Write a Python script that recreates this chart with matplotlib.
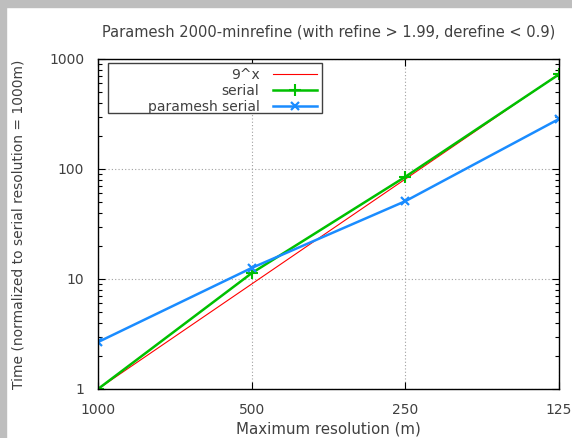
import numpy as np
import matplotlib
matplotlib.use("Agg")
import matplotlib.pyplot as plt
from matplotlib.patches import Rectangle
from matplotlib.ticker import LogLocator, NullFormatter, FixedLocator

# ---- data ----
resolutions = ["1000", "500", "250", "125"]
pow9 = [1, 9, 81, 729]
serial = [1.0, 11.3, 85.0, 725.0]
paramesh_serial = [2.67, 12.6, 51.0, 285.0]

TXT = "#404040"
plt.rcParams.update({"font.family": "DejaVu Sans", "font.size": 10,
                     "text.color": TXT, "axes.labelcolor": TXT,
                     "xtick.color": "black", "ytick.color": "black",
                     "xtick.labelcolor": TXT, "ytick.labelcolor": TXT})

W, H = 572, 438
fig = plt.figure(figsize=(W / 100, H / 100), dpi=100)
# gnuplot window frame (grey strip top + left)
fig.patches.append(Rectangle((0, 1 - 7 / H), 1, 7 / H, transform=fig.transFigure,
                             color="#bebebe", zorder=0))
fig.patches.append(Rectangle((0, 0), 6 / W, 1, transform=fig.transFigure,
                             color="#bebebe", zorder=0))

L, R, T, B = 98, 559, 59, 389
ax = fig.add_axes([L / W, 1 - B / H, (R - L) / W, (B - T) / H])

x = np.arange(len(resolutions))
ax.plot(x, pow9, color="#ff0000", lw=0.8, label="9^x")
ax.plot(x, serial, color="#00c000", lw=1.8, marker="+", ms=8, mew=1.5, label="serial")
ax.plot(x, paramesh_serial, color="#1a8cff", lw=1.8, marker="x", ms=6, mew=1.6,
        label="paramesh serial")

ax.set_yscale("log")
ax.set_ylim(1, 1000)
ax.set_xlim(x[0], x[-1])
ax.xaxis.set_major_locator(FixedLocator(x))
ax.set_xticklabels(resolutions)
ax.set_yticks([1, 10, 100, 1000])
ax.set_yticklabels(["1", "10", "100", "1000"])
ax.yaxis.set_minor_locator(LogLocator(base=10, subs=np.arange(2, 10)))
ax.yaxis.set_minor_formatter(NullFormatter())
ax.tick_params(which="both", direction="in", top=True, right=True, pad=10)
ax.tick_params(which="major", length=5, width=0.8)
ax.tick_params(which="minor", length=3, width=0.8)
ax.grid(True, which="major", color="#a0a0a0", ls=(0, (1, 2)), lw=0.8)
for s in ax.spines.values():
    s.set_linewidth(1.0)

ax.set_title("Paramesh 2000-minrefine (with refine > 1.99, derefine < 0.9)",
             fontsize=10.5, pad=16)
ax.set_xlabel("Maximum resolution (m)", fontsize=10.8, labelpad=3)
ax.set_ylabel("Time (normalized to serial resolution = 1000m)", labelpad=17)

# legend box (gnuplot-style: wide frame, right-aligned entries)
bx0, bx1 = (108 - L) / (R - L), (322 - L) / (R - L)
by0, by1 = (B - 113) / (B - T), (B - 63) / (B - T)
ax.add_patch(Rectangle((bx0, by0), bx1 - bx0, by1 - by0, transform=ax.transAxes,
                       facecolor="white", edgecolor="#404040", lw=1.0, zorder=4))
leg = ax.legend(loc="upper right", bbox_to_anchor=(bx1, by1), markerfirst=False,
                frameon=False, handlelength=3.2, labelspacing=0.15, borderpad=0.35,
                handletextpad=0.95, borderaxespad=0)
leg.set_zorder(5)

fig.savefig("out.png", dpi=100)
